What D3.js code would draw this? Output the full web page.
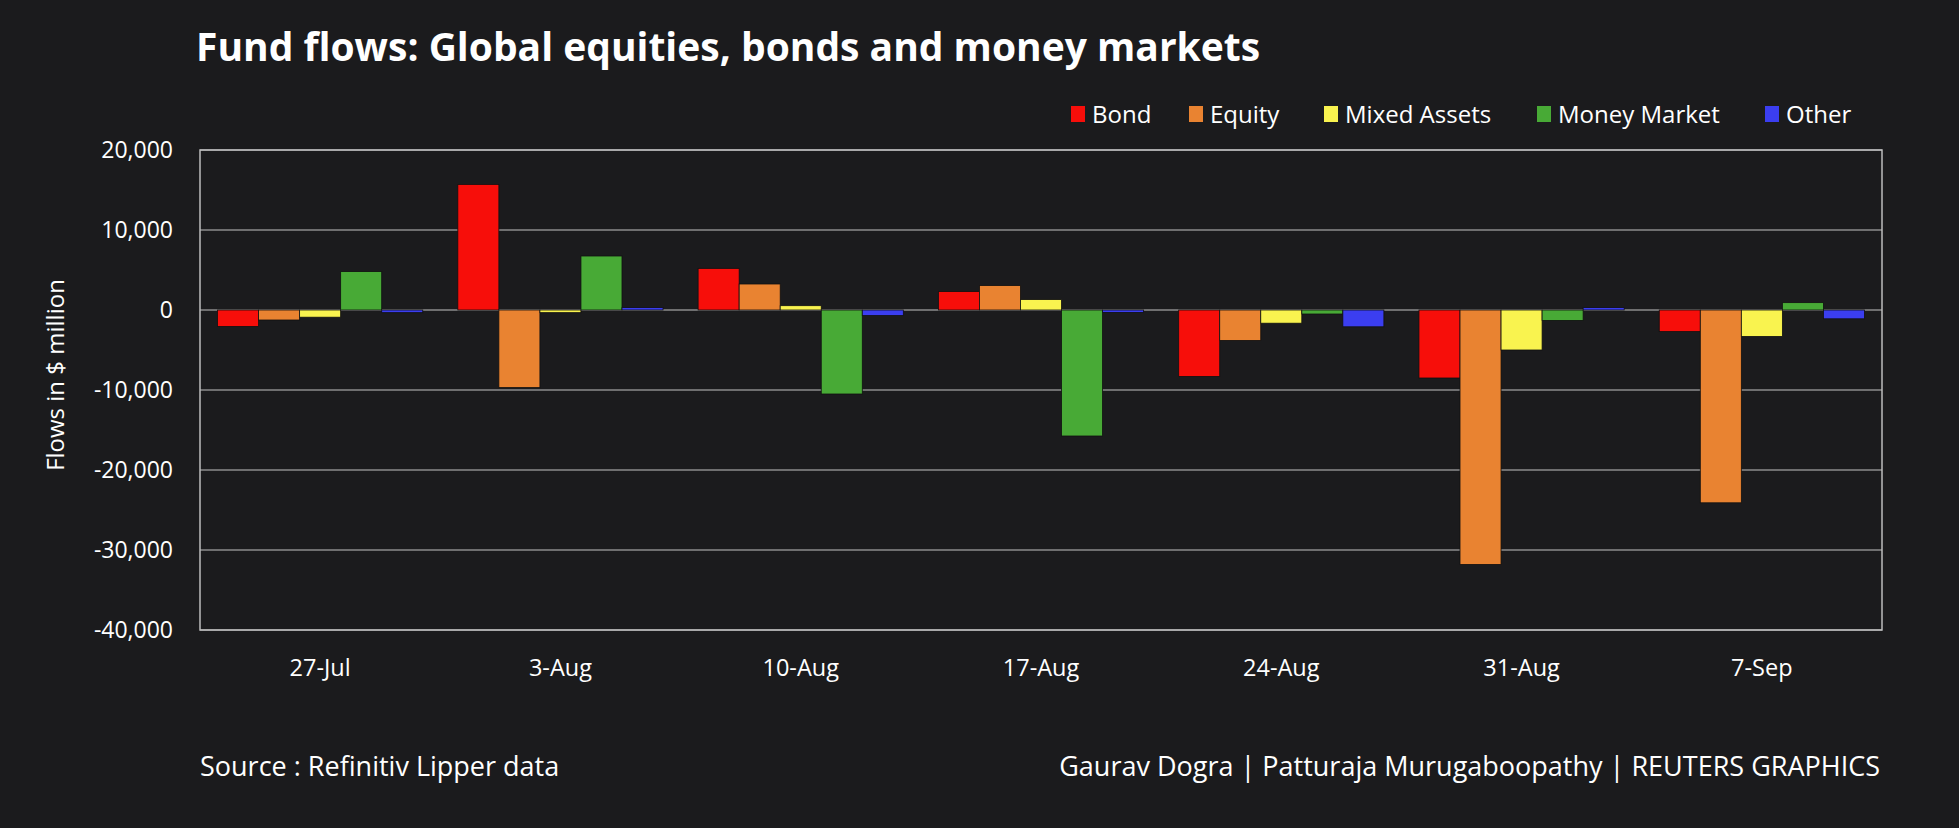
<!DOCTYPE html>
<html>
<head>
<meta charset="utf-8">
<script src="https://cdn.jsdelivr.net/npm/d3@7"></script>
<style>
  html, body { margin: 0; padding: 0; background: #1b1b1d; }
  svg text { font-family: 'Open Sans', 'Noto Sans', sans-serif; fill: #ffffff; }
</style>
</head>
<body>
<div id="chart"></div>
<script>
const weeks = ['27-Jul', '3-Aug', '10-Aug', '17-Aug', '24-Aug', '31-Aug', '7-Sep'];
const seriesNames = ['Bond', 'Equity', 'Mixed Assets', 'Money Market', 'Other'];
const seriesColors = ['#f70e0a', '#e98331', '#f9f34f', '#48aa36', '#3b3ef0'];

const bond = [-2050, 15700, 5200, 2300, -8300, -8500, -2700];
const equity = [-1250, -9700, 3250, 3050, -3800, -31800, -24100];
const mixedAssets = [-900, -330, 540, 1300, -1650, -5000, -3300];
const moneyMarket = [4800, 6750, -10500, -15750, -500, -1300, 920];
const other = [-330, 300, -700, -300, -2100, 300, -1100];

const yTicks = [20000, 10000, 0, -10000, -20000, -30000, -40000];

const allSeries = [bond, equity, mixedAssets, moneyMarket, other];

const width = 1959;
const height = 828;
const margin = { top: 150, right: 77, bottom: 198, left: 200 };

const svg = d3
  .select('#chart')
  .append('svg')
  .attr('width', width)
  .attr('height', height)
  .style('background', '#1b1b1d');

const x0 = d3
  .scaleBand()
  .domain(weeks)
  .range([margin.left, width - margin.right])
  .paddingInner(0.146)
  .paddingOuter(0.073);

const x1 = d3
  .scaleBand()
  .domain(seriesNames)
  .range([0, x0.bandwidth()]);

const y = d3
  .scaleLinear()
  .domain([-40000, 20000])
  .range([height - margin.bottom, margin.top]);

// gridlines
svg
  .append('g')
  .selectAll('line')
  .data(yTicks)
  .enter()
  .append('line')
  .attr('x1', margin.left)
  .attr('x2', width - margin.right)
  .attr('y1', (d) => y(d))
  .attr('y2', (d) => y(d))
  .style('stroke', '#8c8c8c')
  .style('stroke-width', 1.5);

// plot frame
svg
  .append('rect')
  .attr('x', margin.left)
  .attr('y', y(20000))
  .attr('width', width - margin.right - margin.left)
  .attr('height', y(-40000) - y(20000))
  .style('fill', 'none')
  .style('stroke', '#bdbdbd')
  .style('stroke-width', 1.5);

// bars
const groups = svg
  .append('g')
  .selectAll('g')
  .data(weeks)
  .enter()
  .append('g')
  .attr('transform', (d) => `translate(${x0(d)},0)`);

groups
  .selectAll('rect')
  .data((w, i) => seriesNames.map((s, j) => ({ s, j, v: allSeries[j][i] })))
  .enter()
  .append('rect')
  .attr('x', (d) => x1(d.s))
  .attr('width', x1.bandwidth())
  .attr('y', (d) => y(Math.max(0, d.v)))
  .attr('height', (d) => Math.abs(y(d.v) - y(0)))
  .style('fill', (d) => seriesColors[d.j])
  .style('stroke', '#111')
  .style('stroke-width', 0.8);

// y axis labels (plain hyphen for negatives, like the original)
const fmt = d3.format(',');
const yAxis = d3
  .axisLeft(y)
  .tickValues(yTicks)
  .tickSize(0)
  .tickPadding(27)
  .tickFormat((d) => fmt(d).replace('\u2212', '-'));

svg
  .append('g')
  .attr('transform', `translate(${margin.left},0)`)
  .call(yAxis)
  .call((g) => g.select('.domain').remove())
  .selectAll('text')
  .style('font-size', '23px')
  .style('fill', '#fff')
  .style('font-family', "'Open Sans', sans-serif");

// x axis labels
const xAxis = d3.axisBottom(x0).tickSize(0).tickPadding(29);
svg
  .append('g')
  .attr('transform', `translate(0,${y(-40000)})`)
  .call(xAxis)
  .call((g) => g.select('.domain').remove())
  .selectAll('text')
  .style('font-size', '23.5px')
  .style('fill', '#fff')
  .style('font-family', "'Open Sans', sans-serif");

// y axis title
svg
  .append('text')
  .attr('transform', 'translate(64,375) rotate(-90)')
  .attr('text-anchor', 'middle')
  .style('font-size', '24px')
  .text('Flows in $ million');

// title
svg
  .append('text')
  .attr('x', 196)
  .attr('y', 61)
  .style('font-size', '39px')
  .style('font-weight', 'bold')
  .text('Fund flows: Global equities, bonds and money markets');

// legend
const legendX = [1071, 1189, 1324, 1537, 1765];
const legend = svg
  .append('g')
  .selectAll('g')
  .data(seriesNames)
  .enter()
  .append('g')
  .attr('transform', (d, i) => `translate(${legendX[i]},114)`);

legend
  .append('rect')
  .attr('x', 0)
  .attr('y', -8)
  .attr('width', 14)
  .attr('height', 16)
  .style('fill', (d, i) => seriesColors[i]);

legend
  .append('text')
  .attr('x', 21)
  .attr('dy', '0.36em')
  .style('font-size', '24px')
  .text((d) => d);

// footer
svg
  .append('text')
  .attr('x', 200)
  .attr('y', 776)
  .style('font-size', '27px')
  .text('Source : Refinitiv Lipper data');

svg
  .append('text')
  .attr('x', 1880)
  .attr('y', 776)
  .attr('text-anchor', 'end')
  .style('font-size', '27px')
  .text('Gaurav Dogra | Patturaja Murugaboopathy | REUTERS GRAPHICS');
</script>
</body>
</html>
